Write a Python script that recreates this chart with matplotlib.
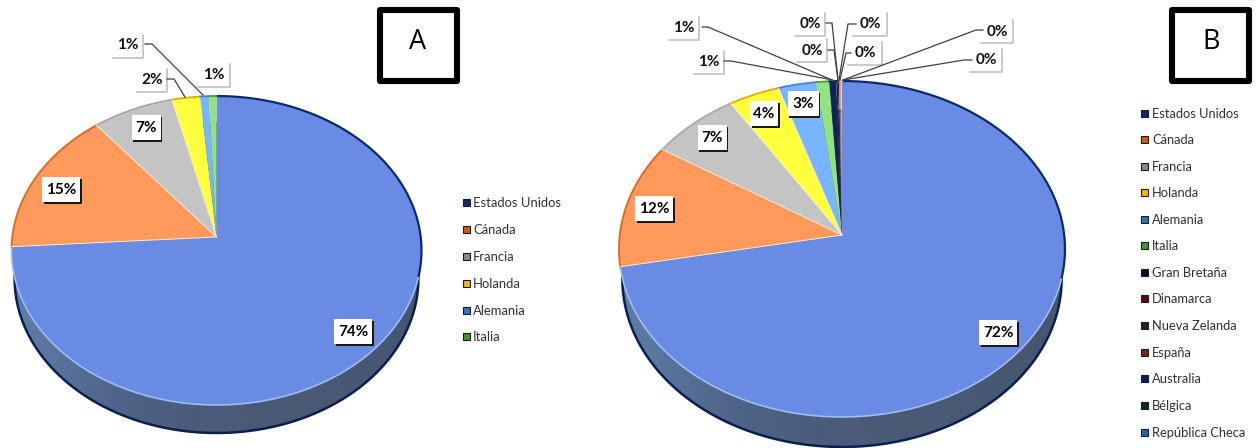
import numpy as np
import matplotlib
matplotlib.use("Agg")
import matplotlib.pyplot as plt
from matplotlib.colors import LinearSegmentedColormap
from matplotlib.patches import Rectangle, Polygon

plt.rcParams['font.family'] = ['Lato', 'DejaVu Sans']

# data
categories_a = ["Estados Unidos", "Cánada", "Francia", "Holanda", "Alemania", "Italia"]
values_a = [74.0, 15.2, 7.0, 2.4, 0.75, 0.65]

categories_b = ["Estados Unidos", "Cánada", "Francia", "Holanda", "Alemania", "Italia",
                "Gran Bretaña", "Dinamarca", "Nueva Zelanda", "España", "Australia",
                "Bélgica", "República Checa"]
values_b = [72.0, 12.0, 7.0, 4.0, 3.0, 1.0, 0.55, 0.12, 0.1, 0.08, 0.06, 0.05, 0.04]

# slice colours, arc edge colours, legend colours
face_colors = ["#6a8be4", "#ff9a5c", "#c4c4c4", "#ffff3c", "#78b4ff", "#92e27e",
               "#10245a", "#14285a", "#1c2a50", "#e8763a", "#e8763a", "#c8d8f0", "#a8d0ff"]
edge_colors = ["#0b2a6e", "#e0651a", "#a8a8a8", "#e8a800", "#3f86d8", "#4aa030",
               "#10245a", "#14285a", "#1c2a50", "#e8763a", "#e8763a", "#c8d8f0", "#a8d0ff"]
legend_colors = ["#0d2a6e", "#d45a10", "#8a8a8a", "#f5b800", "#2e75c0", "#3f9a2a",
                 "#050a20", "#5a0808", "#202020", "#6a3208", "#081a5a", "#06300c", "#2a62b0"]

# layout in pixels of the 1258x448 picture
pie_a = dict(cx=216.5, apex=237, a=153.3, p=0.0874, c=204.2, depth=28)
pie_b = dict(cx=842, apex=235, a=166.8, p=0.0833, c=222.2, depth=30)

inside_a = {0: (353, 332, 38), 1: (61, 190, 38), 2: (146, 128, 29)}
leader_a = {3: ((152, 80), (167, 92), [(167, 79), (174, 79), (185, 97)]),
            4: ((128, 45), (143, 58), [(145, 44), (152, 44), (203, 95)]),
            5: ((214, 75), (230, 87), None)}

inside_b = {0: (998, 333, 38), 1: (654, 209, 38), 2: (712, 138, 29), 3: (764, 114, 28), 4: (803, 104, 31)}
leader_b = {5: ((709, 62), (724, 74), [(724, 61), (731, 61), (833, 80)]),
            6: ((684, 28), (699, 40), [(702, 27), (708, 27), (832, 80)]),
            7: ((812, 51), (827, 62), [(828, 50), (834, 50), (838, 80)]),
            8: ((810, 24), (825, 36), [(826, 23), (832, 23), (838, 80)]),
            9: ((865, 53), (882, 65), [(851, 53), (846, 53), (840, 80)]),
            10: ((870, 24), (887, 36), [(856, 24), (848, 24), (839, 80)]),
            11: ((986, 60), (1002, 72), [(972, 60), (964, 60), (843, 80)]),
            12: ((997, 32), (1013, 43), [(983, 30), (976, 30), (843, 80)])}

legend_a_y = [203, 230, 257, 284, 311, 337]
legend_b_y = [114, 140, 167, 193, 220, 246, 273, 299, 326, 353, 379, 406, 433]

side_cmap = LinearSegmentedColormap.from_list("side", ["#5f7fa8", "#4f6488", "#4a5a78", "#4a5a74", "#465670"])


def project(theta, pie):
    # tilted circle, theta is clockwise from the top
    w = 1 + pie["p"] * np.cos(theta)
    x = pie["cx"] + pie["c"] * np.sin(theta) / w
    y = pie["apex"] - pie["a"] * np.cos(theta) / w
    return x, y


def draw_pie(ax, values, pie):
    # side of the disc
    t = np.linspace(0, 2 * np.pi, 400)
    x, y = project(t, pie)
    low = np.column_stack([pie["cx"] + (x - pie["cx"]) * 0.985, y + pie["depth"]])
    left, right = low[:, 0].min(), low[:, 0].max()
    grad = np.linspace(0, 1, 256).reshape(1, -1)
    im = ax.imshow(grad, cmap=side_cmap, extent=(left, right, low[:, 1].max(), low[:, 1].min()),
                   aspect="auto", zorder=1)
    clip = Polygon(low, closed=True, transform=ax.transData, facecolor="none", edgecolor="none")
    ax.add_patch(clip)
    im.set_clip_path(clip)
    ax.plot(low[:, 0], low[:, 1], color="#0a1f50", lw=1.8, zorder=1.5)

    # top face
    fracs = np.cumsum([0] + list(values)) / sum(values) * 2 * np.pi
    for i, v in enumerate(values):
        t = np.linspace(fracs[i], fracs[i + 1], max(3, int(v * 8)))
        x, y = project(t, pie)
        ax.fill(np.r_[pie["cx"], x], np.r_[pie["apex"], y], color=face_colors[i], lw=0, zorder=2)
        if i == 0:
            upper = t < np.radians(105)
            ax.plot(x[upper], y[upper], color=edge_colors[0], lw=1.6, zorder=3)
            ax.plot(x[~upper], y[~upper], color="#9cbcf2", lw=1.2, zorder=3)
        else:
            ax.plot(x, y, color=edge_colors[i], lw=1.3, zorder=3)
    # light lines between the bigger slices
    for i in range(1, len(values)):
        if values[i] >= 2:
            x, y = project(fracs[i], pie)
            ax.plot([pie["cx"], x], [pie["apex"], y], color="#f4f0d8", lw=0.7, zorder=3)


def draw_inside_labels(ax, values, labels):
    for i, (x, y, w) in labels.items():
        h = 25
        ax.add_patch(Rectangle((x - w / 2 + 1.5, y - h / 2 + 1.5), w, h, color="#201810", lw=0, zorder=4))
        ax.add_patch(Rectangle((x - w / 2, y - h / 2), w, h, color="white", lw=0, zorder=5))
        ax.text(x, y, f"{round(values[i])}%", ha="center", va="center", fontsize=11,
                fontweight="bold", color="black", zorder=6)


def draw_leader_labels(ax, values, labels):
    for i, (pos, corner, line) in labels.items():
        cx, cy = corner
        w = 2 * (cx - pos[0])
        ax.plot([cx - w, cx, cx], [cy, cy, cy - 23], color="#c0c0c0", lw=1.2, zorder=4)
        ax.text(pos[0], pos[1], f"{round(values[i])}%", ha="center", va="center", fontsize=11,
                fontweight="bold", color="#111111", zorder=6)
        if line:
            ax.plot([p[0] for p in line], [p[1] for p in line], color="#404040", lw=0.9, zorder=5)


def draw_legend(ax, names, ys, x_mark, x_text, size):
    for i, name in enumerate(names):
        ax.add_patch(Rectangle((x_mark, ys[i] - 3.5), 7, 7, facecolor=legend_colors[i],
                               edgecolor="#1a1a2a", lw=0.8, zorder=4))
        ax.text(x_text, ys[i], name, ha="left", va="center", fontsize=size, color="#303030", zorder=4)


def draw_tag(ax, letter, x0, x1, y0, y1, tx, ty):
    ax.add_patch(Rectangle((x0, y0), x1 - x0, y1 - y0, facecolor="white", edgecolor="black",
                           lw=4.4, joinstyle="round", zorder=4))
    ax.text(tx, ty, letter, ha="center", va="center", fontsize=19.5, color="black",
            family="Open Sans", zorder=5)


fig = plt.figure(figsize=(12.58, 4.48), dpi=100)
ax = fig.add_axes([0, 0, 1, 1])

draw_pie(ax, values_a, pie_a)
draw_pie(ax, values_b, pie_b)
draw_inside_labels(ax, values_a, inside_a)
draw_inside_labels(ax, values_b, inside_b)
draw_leader_labels(ax, values_a, leader_a)
draw_leader_labels(ax, values_b, leader_b)
draw_legend(ax, categories_a, legend_a_y, 462.5, 473, 9.4)
draw_legend(ax, categories_b, legend_b_y, 1141, 1152, 9.3)
draw_tag(ax, "A", 380, 457, 10, 81, 418, 42)
draw_tag(ax, "B", 1172, 1249, 10, 81, 1211, 42)

ax.set_xlim(0, 1258)
ax.set_ylim(448, 0)
ax.axis("off")
fig.savefig("out.png", dpi=100)
